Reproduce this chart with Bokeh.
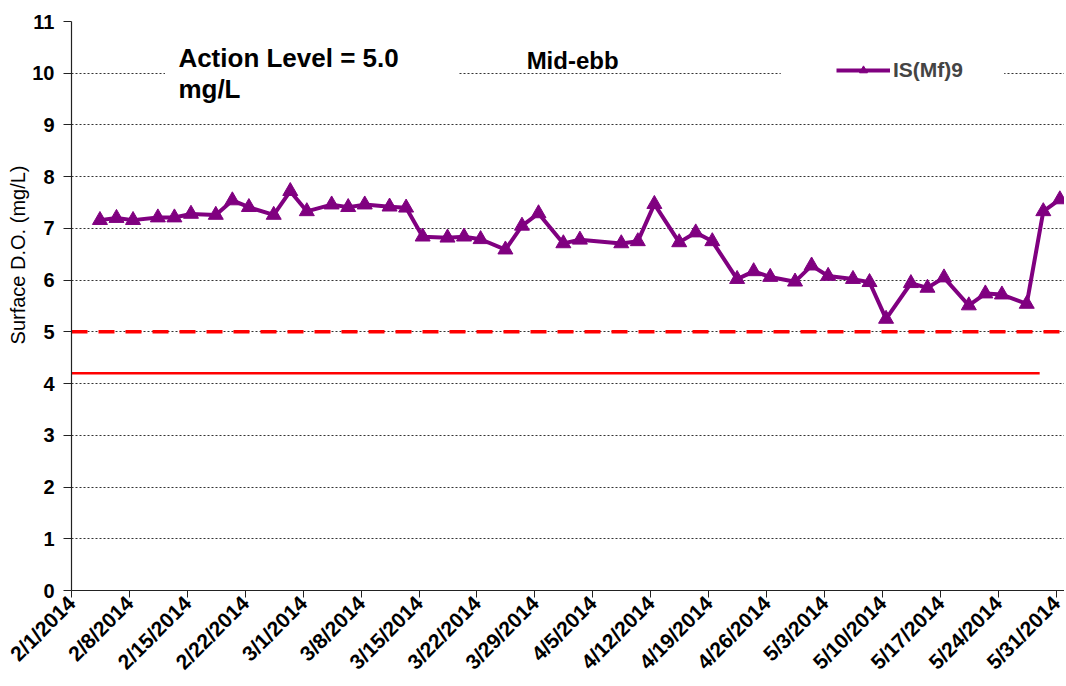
import math
import pandas as pd
from bokeh.plotting import figure
from bokeh.models import (FixedTicker, Label, BoxAnnotation, Legend, LegendItem,
                          Range1d, ColumnDataSource, Title)
from bokeh.embed import file_html
from bokeh.resources import INLINE

# ---------------- data ----------------
sample_dates = [
    "2014-02-04 10:30", "2014-02-06 10:30", "2014-02-08 10:30", "2014-02-11 10:30",
    "2014-02-13 10:30", "2014-02-15 10:30", "2014-02-18 10:30", "2014-02-20 10:30",
    "2014-02-22 10:30", "2014-02-25 10:30", "2014-02-27 10:30", "2014-03-01 10:30",
    "2014-03-04 10:30", "2014-03-06 10:30", "2014-03-08 10:30", "2014-03-11 10:30",
    "2014-03-13 10:30", "2014-03-15 10:30", "2014-03-18 10:30", "2014-03-20 10:30",
    "2014-03-22 10:30", "2014-03-25 10:30", "2014-03-27 10:30", "2014-03-29 10:30",
    "2014-04-01 10:30", "2014-04-03 10:30", "2014-04-08 10:30", "2014-04-10 10:30",
    "2014-04-12 10:30", "2014-04-15 10:30", "2014-04-17 10:30", "2014-04-19 10:30",
    "2014-04-22 10:30", "2014-04-24 10:30", "2014-04-26 10:30", "2014-04-29 10:30",
    "2014-05-01 10:30", "2014-05-03 10:30", "2014-05-06 10:30", "2014-05-08 10:30",
    "2014-05-10 10:30", "2014-05-13 10:30", "2014-05-15 10:30", "2014-05-17 10:30",
    "2014-05-20 10:30", "2014-05-22 10:30", "2014-05-24 10:30", "2014-05-27 10:30",
    "2014-05-29 10:30", "2014-05-31 10:30",
]
surface_do = [
    7.16, 7.20, 7.16, 7.21, 7.21, 7.28, 7.26, 7.54, 7.41, 7.26,
    7.72, 7.33, 7.46, 7.41, 7.46, 7.42, 7.40, 6.84, 6.82, 6.84,
    6.79, 6.59, 7.05, 7.29, 6.71, 6.78, 6.71, 6.75, 7.47, 6.73,
    6.92, 6.75, 6.02, 6.17, 6.06, 5.97, 6.28, 6.08, 6.02, 5.96,
    5.25, 5.94, 5.85, 6.05, 5.51, 5.74, 5.72, 5.54, 7.33, 7.56,
]
series_name = "IS(Mf)9"

action_dates = ["2014-02-01", "2014-06-01"]
action_values = [5.0, 5.0]
limit_dates = ["2014-02-01", "2014-05-29"]
limit_values = [4.2, 4.2]

tick_dates = ["2014-02-01", "2014-02-08", "2014-02-15", "2014-02-22", "2014-03-01",
              "2014-03-08", "2014-03-15", "2014-03-22", "2014-03-29", "2014-04-05",
              "2014-04-12", "2014-04-19", "2014-04-26", "2014-05-03", "2014-05-10",
              "2014-05-17", "2014-05-24", "2014-05-31"]
tick_labels = ["2/1/2014", "2/8/2014", "2/15/2014", "2/22/2014", "3/1/2014",
               "3/8/2014", "3/15/2014", "3/22/2014", "3/29/2014", "4/5/2014",
               "4/12/2014", "4/19/2014", "4/26/2014", "5/3/2014", "5/10/2014",
               "5/17/2014", "5/24/2014", "5/31/2014"]
y_ticks = [0, 1, 2, 3, 4, 5, 6, 7, 8, 9, 10, 11]
y_title = "Surface D.O. (mg/L)"


def ms(s):
    return pd.Timestamp(s).value / 1e6


FONT = "Liberation Sans"
PURPLE = "#800080"
RED = "#FF0000"

p = figure(width=1064, height=684, x_axis_type="datetime",
           output_backend="svg", toolbar_location=None,
           x_range=Range1d(ms("2014-02-01"), ms("2014-06-01")),
           y_range=Range1d(0, 11),
           min_border_left=71, min_border_right=0, min_border_top=21,
           min_border_bottom=93)
p.background_fill_color = "white"
p.border_fill_color = "white"
p.outline_line_color = None

# grid
p.xgrid.grid_line_color = None
p.ygrid.grid_line_color = "#333333"
p.ygrid.grid_line_dash = "2 2"
p.ygrid.grid_line_width = 1

# axes
tick_ms = [ms(d) for d in tick_dates]
p.xaxis.ticker = FixedTicker(ticks=tick_ms)
p.xaxis.major_label_overrides = {t: l for t, l in zip(tick_ms, tick_labels)}
p.xaxis.major_label_orientation = math.pi / 4
p.yaxis.ticker = FixedTicker(ticks=y_ticks)
for ax in (p.xaxis, p.yaxis):
    ax.axis_line_color = "#222222"
    ax.axis_line_width = 1.2
    ax.major_tick_line_color = "#222222"
    ax.major_tick_in = 0
    ax.minor_tick_out = 0
    ax.minor_tick_in = 0
    ax.major_label_text_font = FONT
    ax.major_label_text_font_style = "bold"
    ax.major_label_text_font_size = "20px"
    ax.major_label_text_color = "black"
p.xaxis.major_label_text_font_size = "21px"
p.xaxis.major_tick_out = 7
p.yaxis.major_tick_out = 8
p.xaxis.major_label_standoff = 2
p.yaxis.major_label_standoff = 9

# y-axis title placed like the original (upper part of the axis)
p.add_layout(Title(text=y_title, align="right", offset=144, standoff=2,
                   text_font=FONT, text_font_size="20px",
                   text_font_style="normal", text_color="black"), "left")

# white boxes behind the text blocks (hide grid like the original text boxes)
p.add_layout(BoxAnnotation(left=ms("2014-02-12 07:00"), right=ms("2014-03-19 17:00"),
                           bottom=9.6, top=10.4, fill_color="white", fill_alpha=1,
                           line_color=None))
p.add_layout(BoxAnnotation(left=ms("2014-04-27 17:00"), right=ms("2014-05-24 17:00"),
                           bottom=9.6, top=10.4, fill_color="white", fill_alpha=1,
                           line_color=None))

# reference lines
p.line(x=[ms(d) for d in action_dates], y=action_values, line_color=RED,
       line_width=3.5, line_dash="16 11")
p.line(x=[ms(d) for d in limit_dates], y=limit_values, line_color=RED, line_width=2.5)

# data series
src = ColumnDataSource(dict(x=[ms(d) for d in sample_dates], y=surface_do))
ln = p.line("x", "y", source=src, line_color=PURPLE, line_width=4)
mk = p.scatter("x", "y", source=src, marker="triangle", size=15,
               fill_color=PURPLE, line_color=PURPLE)

# texts
for txt, x, y, size in [("Action Level = 5.0", "2014-02-13 22:00", 10.29, "26px"),
                        ("mg/L", "2014-02-13 22:00", 9.69, "26px"),
                        ("Mid-ebb", "2014-03-28 00:00", 10.24, "24px")]:
    p.add_layout(Label(x=ms(x), y=y, text=txt, text_font=FONT,
                       text_font_style="bold", text_font_size=size,
                       text_color="black", text_baseline="alphabetic"))

legend = Legend(items=[LegendItem(label=series_name, renderers=[ln, mk])],
                location=(765, 508), glyph_width=54, glyph_height=20,
                label_standoff=3, padding=4, spacing=0,
                label_text_font=FONT, label_text_font_style="bold",
                label_text_font_size="21px", background_fill_alpha=0,
                border_line_color=None)
p.add_layout(legend)

open("out.html", "w").write(file_html(p, INLINE))
